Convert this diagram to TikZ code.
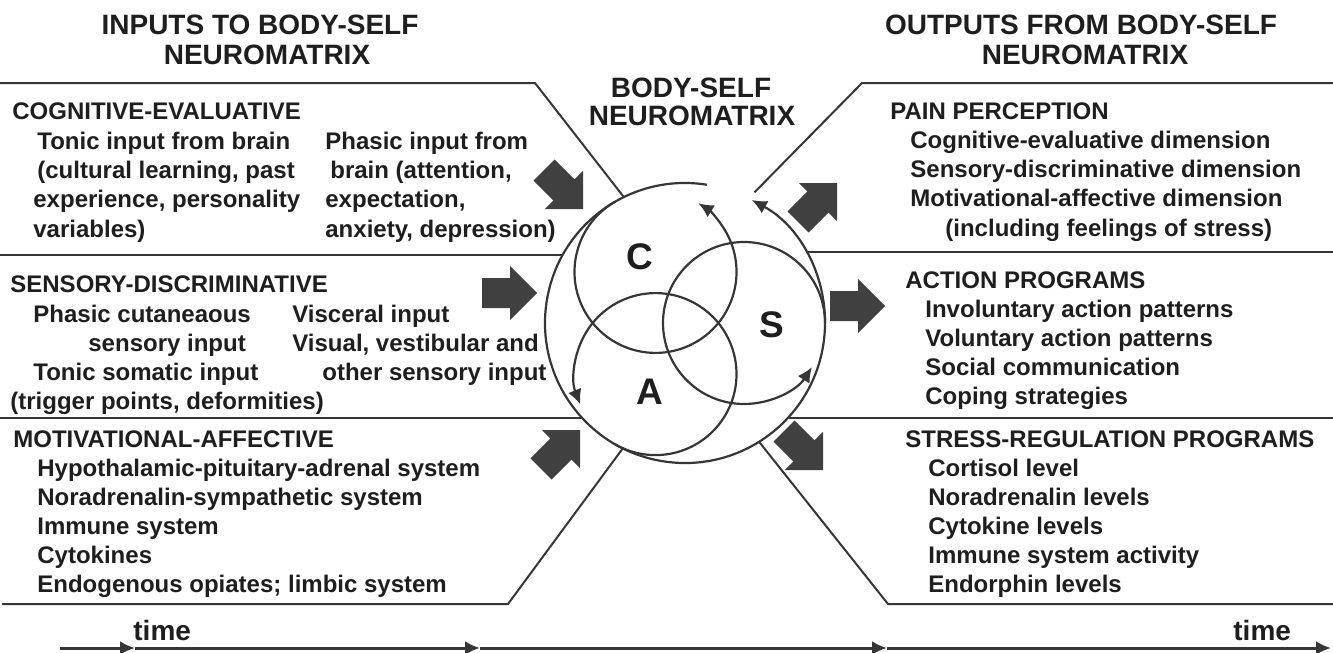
\documentclass[tikz,border=0pt]{standalone}
\usepackage{fontspec}
\setmainfont{Liberation Sans}
\usetikzlibrary{arrows.meta}
\definecolor{inkgray}{HTML}{1E1E1E}
\definecolor{linegray}{HTML}{363636}
\definecolor{arrowgray}{HTML}{404040}
% fat arrow, #1 = tip, #2 = direction
\newcommand{\blockarrow}[2]{%
  \fill[arrowgray,shift={#1},rotate=#2] (0,0) -- (-27,27) -- (-27,15) -- (-55,15)
    -- (-55,-15) -- (-27,-15) -- (-27,-27) -- cycle;}
\tikzset{
  head/.style={anchor=base west,inner sep=0pt,text=inkgray,font=\fontsize{12}{14}\selectfont\bfseries},
  item/.style={head},
  title/.style={anchor=base,inner sep=0pt,text=inkgray,font=\fontsize{14}{17}\selectfont\bfseries},
  letter/.style={inner sep=0pt,text=inkgray,font=\fontsize{18.5}{22}\selectfont\bfseries},
  border/.style={draw=linegray,line width=1pt},
  ring/.style={draw=linegray,line width=1.1pt,->},
}
\begin{document}
\begin{tikzpicture}[x=0.5pt,y=0.5pt,>={Latex[length=7.5pt,width=7pt]}]
                \useasboundingbox (0,0) rectangle (1333,-653);
                % neuromatrix circles
                \coordinate (mid) at (685,-323);
                \coordinate (cC) at ([shift={(120:59)}]mid);
                \coordinate (cS) at ([shift={(0:59)}]mid);
                \coordinate (cA) at ([shift={(240:59)}]mid);
                \draw[ring] (mid) ++(81:140) arc[start angle=81,end angle=421.5,radius=140];
                \draw[ring] (cC) ++(120:81) arc[start angle=120,end angle=418,radius=81];
                \draw[ring] (cS) ++(0:81) arc[start angle=0,end angle=327,radius=81];
                \draw[ring] (cA) ++(240:81) arc[start angle=240,end angle=562,radius=81];
                \node[letter] (C) at (640,-257) {C};
                \node[letter] (S) at (772,-325) {S};
                \node[letter] (A) at (650,-392) {A};
                % panel borders
                \coordinate (tl) at ([shift={(116:141)}]mid);
                \coordinate (bl) at ([shift={(243.6:140)}]mid);
                \coordinate (tr) at ([shift={(62:148)}]mid);
                \coordinate (br) at ([shift={(-58:141)}]mid);
                \draw[border] (0,-83) -- (535,-83) -- (tl);
                \draw[border] (0,-255) -- (563,-255);
                \draw[border] (0,-418) -- (582,-418);
                \draw[border] (2,-604) -- (508,-604) -- (bl);
                \draw[border] (tr) -- (862,-83) -- (1333,-83);
                \draw[border] (806,-252) -- (1333,-252);
                \draw[border] (788,-418) -- (1333,-418);
                \draw[border] (br) -- (888,-604) -- (1333,-604);
                % fat arrows in and out
                \blockarrow{(583,-209)}{-45}
                \blockarrow{(537,-293)}{0}
                \blockarrow{(580,-430)}{45}
                \blockarrow{(837,-183)}{45}
                \blockarrow{(885,-306)}{0}
                \blockarrow{(823,-470)}{-45}
                % titles
                \node[title] (in1) at (260,-34) {INPUTS TO BODY-SELF};
                \node[title] (in2) at (267,-64) {NEUROMATRIX};
                \node[title] (nm1) at (691,-97) {BODY-SELF};
                \node[title] (nm2) at (692,-125) {NEUROMATRIX};
                \node[title] (out1) at (1081,-34) {OUTPUTS FROM BODY-SELF};
                \node[title] (out2) at (1085,-64) {NEUROMATRIX};
                % inputs
                \node[head] (cog) at (12,-119) {COGNITIVE-EVALUATIVE};
                \node[item] (cog1) at (37,-149) {Tonic input from brain};
                \node[item] (cog2) at (37,-178) {(cultural learning, past};
                \node[item] (cog3) at (33,-207) {experience, personality};
                \node[item] (cog4) at (33,-237) {variables)};
                \node[item] (cog5) at (325,-149) {Phasic input from};
                \node[item] (cog6) at (330,-178) {brain (attention,};
                \node[item] (cog7) at (325,-207) {expectation,};
                \node[item] (cog8) at (325,-237) {anxiety, depression)};
                \node[head] (sen) at (10,-292) {SENSORY-DISCRIMINATIVE};
                \node[item] (sen1) at (33,-322) {Phasic cutaneaous};
                \node[item] (sen2) at (88,-351) {sensory input};
                \node[item] (sen3) at (33,-380) {Tonic somatic input};
                \node[item] (sen4) at (10,-409) {(trigger points, deformities)};
                \node[item] (sen5) at (292,-322) {Visceral input};
                \node[item] (sen6) at (292,-351) {Visual, vestibular and};
                \node[item] (sen7) at (322,-380) {other sensory input};
                \node[head] (mot) at (13,-447) {MOTIVATIONAL-AFFECTIVE};
                \foreach \txt [count=\i] in {Hypothalamic-pituitary-adrenal system,
                    Noradrenalin-sympathetic system,Immune system,Cytokines,
                    Endogenous opiates; limbic system}
                  \node[item] (mot\i) at (37,{-476-29*(\i-1)}) {\txt};
                % outputs
                \node[head] (pain) at (890,-119) {PAIN PERCEPTION};
                \foreach \txt [count=\i] in {Cognitive-evaluative dimension,
                    Sensory-discriminative dimension,Motivational-affective dimension}
                  \node[item] (pain\i) at (910,{-148-29*(\i-1)}) {\txt};
                \node[item] (pain4) at (945,-236) {(including feelings of stress)};
                \node[head] (act) at (905,-288) {ACTION PROGRAMS};
                \foreach \txt [count=\i] in {Involuntary action patterns,
                    Voluntary action patterns,Social communication,Coping strategies}
                  \node[item] (act\i) at (925,{-317-29*(\i-1)}) {\txt};
                \node[head] (str) at (905,-447) {STRESS-REGULATION PROGRAMS};
                \foreach \txt [count=\i] in {Cortisol level,Noradrenalin levels,
                    Cytokine levels,Immune system activity,Endorphin levels}
                  \node[item] (str\i) at (928,{-476-29*(\i-1)}) {\txt};
                % time axis
                \coordinate (t0) at (60,-648);
                \coordinate (t1) at (135,-648);
                \coordinate (t2) at (480,-648);
                \coordinate (t3) at (887,-648);
                \coordinate (t4) at (1331,-648);
                \foreach \a/\b in {t0/t1,t1/t2,t2/t3,t3/t4}
                  \draw[linegray,line width=1.5pt,->] (\a) -- (\b);
                \node[title,anchor=base west] (time1) at (133,-640) {time};
                \node[title,anchor=base west] (time2) at (1233,-640) {time};
            \end{tikzpicture}
\end{document}
